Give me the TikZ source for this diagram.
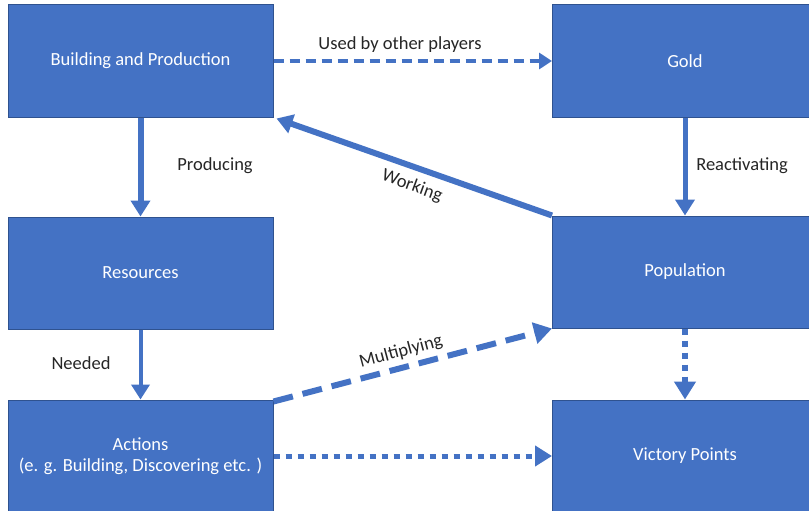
\documentclass[tikz,border=0pt]{standalone}
\usepackage{fontspec}
\setmainfont{Carlito}
\usetikzlibrary{arrows.meta}
\definecolor{boxblue}{HTML}{4472C4}
\definecolor{boxedge}{HTML}{2F528F}
\tikzset{
  block/.style={draw=boxedge, line width=1pt, fill=boxblue, text=white,
    minimum width=265pt, minimum height=112pt, inner sep=0pt, align=center,
    font=\fontsize{18.5}{21}\selectfont},
  flow/.style={draw=boxblue, line width=6pt},
  tip/.style={-{Triangle[length=#1pt, width=#1pt+3pt]}},
  lbl/.style={text=black!85, font=\fontsize{18.5}{21}\selectfont, inner sep=0pt},
  dashline/.style={dash pattern=on 10pt off 6pt},
  bigdash/.style={dash pattern=on 20pt off 10pt},
  dotline/.style={dash pattern=on 6pt off 6pt},
}
\begin{document}
\begin{tikzpicture}[x=1pt, y=-1pt]
\useasboundingbox (0,0) rectangle (809,511);
\clip (0,0) rectangle (809,511);
\fill[white] (0,0) rectangle (809,511);

% boxes
\node[block] (bp)   at (140.5,61)  {Building and Production};
\node[block] (gold) at (685,61)    {Gold};
\node[block] (res)  at (140.5,273) {Resources};
\node[block] (pop)  at (685,272)   {Population};
\node[block] (act)  at (140.5,456) {Actions\\(e. g. Building, Discovering etc. )};
\node[block] (vp)   at (685,456)   {Victory Points};

% connectors
\draw[flow, line width=4pt, dashline, tip=13] (bp.east) -- (gold.west);
\draw[flow, tip=16] (bp.south) -- (res.north);
\draw[flow, line width=5pt, tip=16] (gold.south) -- (pop.north);
\draw[flow, line width=4pt, tip=15] (res.south) -- (act.north);
\draw[flow, tip=16] (pop.north west) -- ([xshift=3pt,yshift=-1pt]bp.south east);
\draw[flow, bigdash, tip=18] ([yshift=-2pt]act.north east) -- (pop.south west);
\draw[flow, line width=5pt, dotline, tip=17] (act.east) -- (vp.west);
\draw[flow, dotline, tip=18] (pop.south) -- (vp.north);

% labels
\node[lbl] (l1) at (400,45)  {Used by other players};
\node[lbl] (l2) at (215,166) {Producing};
\node[lbl] (l3) at (742,166) {Reactivating};
\node[lbl, rotate=-20] (l4) at (412,186) {Working};
\node[lbl] (l5) at (81,363)  {Needed};
\node[lbl, rotate=15] (l6) at (401,352) {Multiplying};
\end{tikzpicture}
\end{document}
